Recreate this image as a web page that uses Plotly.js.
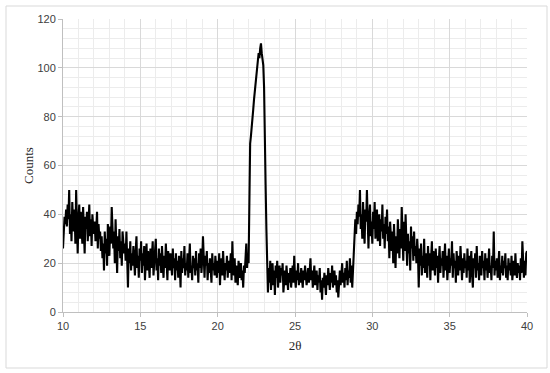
<!DOCTYPE html>
<html>
<head>
<meta charset="utf-8">
<script src="https://cdn.plot.ly/plotly-3.0.1.min.js"></script>
<style>
  html, body { margin: 0; padding: 0; background: #fff; }
  #chart { width: 550px; height: 373px; }
</style>
</head>
<body>
<div id="chart"></div>
<script>
// scan grid (degrees 2-theta)
var startAngle = 10;
var stepAngle = 0.05;

// counts, one segment after another (10.00 .. 40.00)
var countsShoulder = [ // 10.00 - 13.95
  26, 33, 39, 36, 42, 35, 44, 38, 50, 32,
  40, 29, 45, 37, 33, 42, 28, 50, 36, 24,
  38, 44, 30, 41, 35, 28, 43, 33, 24, 39,
  34, 41, 29, 36, 44, 31, 38, 27, 40, 35,
  32, 37, 29, 34, 41, 26, 36, 30, 33, 25,
  31, 22, 28, 17, 33, 24, 30, 19, 36, 27,
  23, 35, 28, 43, 37, 26, 33, 20, 38, 29,
  16, 31, 25, 34, 22, 29, 19, 33, 26, 24
];
var countsBaseLow = [ // 14.00 - 21.95
  28, 21, 33, 18, 10, 26, 20, 29, 17, 24,
  19, 27, 22, 15, 25, 31, 18, 23, 14, 26,
  21, 29, 16, 24, 19, 27, 13, 22, 28, 17,
  25, 20, 14, 26, 18, 23, 29, 15, 21, 24,
  30, 17, 22, 13, 26, 19, 24, 16, 27, 20,
  14, 23, 18, 28, 21, 13, 25, 19, 17, 24,
  20, 15, 26, 18, 22, 13, 24, 17, 21, 14,
  23, 19, 10, 25, 16, 22, 18, 27, 15, 20,
  17, 24, 14, 21, 28, 16, 19, 13, 23, 18,
  22, 15, 25, 17, 20, 12, 24, 18, 26, 16,
  21, 31, 17, 14, 23, 19, 25, 13, 20, 16,
  22, 18, 12, 24, 17, 20, 15, 23, 19, 14,
  21, 16, 24, 11, 19, 22, 15, 25, 18, 13,
  20, 17, 23, 14, 21, 16, 19, 24, 13, 29,
  18, 15, 22, 12, 19, 16, 11, 21, 17, 14,
  20, 13, 17, 10, 19, 16, 22, 28, 18, 24
];
var countsPeak = [ // 22.00 - 23.25
  20, 64, 69, 72, 75, 79, 83, 87, 91, 94,
  97, 100, 103, 106, 104, 108, 110, 106, 104, 101,
  92, 78, 52, 34, 20, 8
];
var countsValley = [ // 23.30 - 28.75
  18, 12, 21, 9, 16, 20, 11, 17, 7, 19,
  14, 21, 10, 16, 19, 12, 18, 15, 20, 8,
  13, 17, 11, 19, 14, 9, 16, 12, 18, 10,
  15, 19, 12, 23, 14, 10, 17, 13, 20, 11,
  16, 12, 18, 14, 10, 17, 13, 19, 15, 11,
  14, 18, 12, 16, 22, 13, 17, 10, 15, 19,
  11, 14, 17, 9, 15, 12, 18, 8, 13, 5,
  14, 10, 16, 12, 7, 15, 11, 18, 13, 9,
  16, 12, 19, 10, 14, 17, 11, 15, 8, 13,
  6, 14, 17, 11, 15, 20, 12, 16, 10, 18,
  13, 21, 11, 17, 14, 22, 12, 19, 10, 18
];
var countsHalo = [ // 28.80 - 32.95
  26, 35, 38, 32, 41, 36, 44, 39, 50, 34,
  40, 30, 45, 35, 28, 42, 37, 50, 33, 26,
  39, 44, 31, 37, 28, 41, 34, 45, 30, 36,
  42, 29, 35, 40, 27, 38, 33, 44, 30, 36,
  26, 39, 32, 42, 29, 35, 22, 37, 31, 25,
  33, 20, 36, 27, 18, 31, 24, 38, 28, 22,
  34, 26, 43, 30, 21, 37, 25, 40, 28, 19,
  32, 24, 29, 17, 35, 26, 31, 21, 33, 23,
  27, 20, 30, 24
];
var countsBaseHigh = [ // 33.00 - 40.00
  10, 26, 19, 28, 15, 23, 18, 30, 16, 24,
  21, 14, 27, 19, 24, 13, 22, 29, 17, 25,
  20, 15, 26, 18, 23, 12, 21, 27, 16, 22,
  19, 25, 14, 21, 28, 17, 23, 13, 20, 26,
  16, 22, 19, 29, 14, 24, 18, 21, 12, 25,
  20, 15, 23, 17, 27, 19, 13, 22, 16, 24,
  18, 21, 14, 26, 17, 23, 12, 20, 25, 15,
  10, 22, 18, 24, 14, 27, 17, 20, 13, 23,
  19, 15, 25, 18, 21, 13, 24, 17, 22, 14,
  20, 26, 16, 19, 13, 23, 18, 33, 15, 21,
  17, 22, 14, 20, 25, 13, 19, 16, 23, 15,
  21, 18, 24, 14, 19, 13, 22, 17, 20, 15,
  23, 13, 18, 21, 15, 24, 17, 14, 20, 16,
  19, 13, 22, 16, 29, 18, 14, 21, 15, 24,
  25
];

var xTickVals = [10, 15, 20, 25, 30, 35, 40];
var yTickVals = [0, 20, 40, 60, 80, 100, 120];

var counts = countsShoulder.concat(countsBaseLow, countsPeak, countsValley, countsHalo, countsBaseHigh);
var angles = counts.map(function (c, i) {
  return Math.round((startAngle + i * stepAngle) * 100) / 100;
});

var W = 550, H = 373;
var margin = {l: 63, r: 23, t: 19, b: 61};
var pw = W - margin.l - margin.r;
var ph = H - margin.t - margin.b;
// outer frame of the figure, given in pixels and turned into paper units
function px(x) { return (x - margin.l) / pw; }
function py(y) { return (H - margin.b - y) / ph; }

var trace = {
  x: angles,
  y: counts,
  mode: 'lines',
  line: {color: '#000000', width: 2.1},
  hovertemplate: '2θ: %{x}<br>%{y}<extra></extra>'
};

var tickFont = {family: 'Liberation Sans, Arial, sans-serif', size: 11, color: '#404040'};
var titleFont = {family: 'Liberation Serif, Times New Roman, serif', size: 13, color: '#262626'};

var layout = {
  width: W,
  height: H,
  margin: margin,
  showlegend: false,
  plot_bgcolor: '#ffffff',
  paper_bgcolor: '#ffffff',
  xaxis: {
    range: [10, 40],
    tickvals: xTickVals,
    ticktext: xTickVals.map(String),
    ticks: 'outside',
    ticklen: 4,
    tickcolor: '#bfbfbf',
    tickfont: tickFont,
    showgrid: true,
    gridcolor: '#d9d9d9',
    gridwidth: 1,
    minor: {dtick: 1, showgrid: true, gridcolor: '#ececec', gridwidth: 1},
    showline: true,
    linecolor: '#bfbfbf',
    zeroline: false,
    title: {text: '2θ', font: titleFont, standoff: 9}
  },
  yaxis: {
    range: [0, 120],
    tickvals: yTickVals,
    ticktext: yTickVals.map(String),
    ticks: 'outside',
    ticklen: 4,
    tickcolor: '#bfbfbf',
    tickfont: tickFont,
    showgrid: true,
    gridcolor: '#d9d9d9',
    gridwidth: 1,
    minor: {dtick: 4, showgrid: true, gridcolor: '#ececec', gridwidth: 1},
    showline: true,
    linecolor: '#bfbfbf',
    zeroline: false,
    title: {text: 'Counts', font: titleFont, standoff: 0}
  },
  shapes: [{
    type: 'rect',
    xref: 'paper', yref: 'paper',
    x0: px(6), x1: px(547), y0: py(368), y1: py(6),
    line: {color: '#d9d9d9', width: 1},
    fillcolor: 'rgba(0,0,0,0)',
    layer: 'below'
  }]
};

Plotly.newPlot('chart', [trace], layout, {displayModeBar: false, staticPlot: true});
</script>
</body>
</html>
